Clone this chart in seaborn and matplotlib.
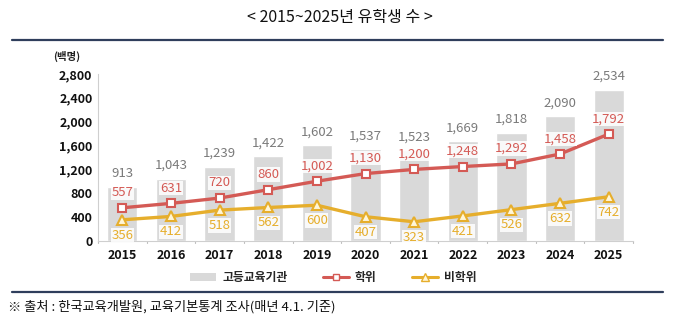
import matplotlib
matplotlib.use("Agg")
import matplotlib.pyplot as plt
from matplotlib.lines import Line2D
from matplotlib.patches import Patch
import seaborn as sns
import pandas as pd

years = ["2015", "2016", "2017", "2018", "2019", "2020", "2021", "2022", "2023", "2024", "2025"]
total = [913, 1043, 1239, 1422, 1602, 1537, 1523, 1669, 1818, 2090, 2534]
degree = [557, 631, 720, 860, 1002, 1130, 1200, 1248, 1292, 1458, 1792]
nondegree = [356, 412, 518, 562, 600, 407, 323, 421, 526, 632, 742]
yticks = [0, 400, 800, 1200, 1600, 2000, 2400, 2800]

df = pd.DataFrame({"year": years, "total": total, "degree": degree, "nondegree": nondegree})

sns.set_theme(style="white")
plt.rcParams['font.family'] = ['Noto Sans CJK KR', 'DejaVu Sans']

GREY_BAR = "#d9d9d9"
RED = "#d45a55"
YEL = "#e6ae2c"
GREY_TXT = "#7a7a7a"
NAVY = "#2f3e5c"

fig = plt.figure(figsize=(6.8, 3.24), dpi=100)
ax = fig.add_axes([0.144, 0.256, 0.787, 0.516])

sns.barplot(data=df, x="year", y="total", color=GREY_BAR, width=0.62, ax=ax,
            saturation=1, zorder=1)
sns.pointplot(data=df, x="year", y="degree", color=RED, markers="s", ax=ax,
              markersize=6, linewidth=2.4, markerfacecolor="white",
              markeredgecolor=RED, markeredgewidth=1.5, zorder=3)
sns.pointplot(data=df, x="year", y="nondegree", color=YEL, markers="^", ax=ax,
              markersize=7, linewidth=2.4, markerfacecolor="#fff6d8",
              markeredgecolor=YEL, markeredgewidth=1.5, zorder=3)

ax.set_ylim(0, 2800)
ax.set_xlim(-0.5, len(years) - 0.5)
ax.set_yticks(yticks)
ax.set_yticklabels([f"{v:,}" for v in yticks], fontsize=9, fontweight="bold", color="#111111")
ax.set_xticks(range(len(years)))
ax.set_xticklabels(years, fontsize=9, fontweight="bold", color="#111111")
ax.set_xlabel("")
ax.set_ylabel("")
ax.tick_params(axis="x", length=0, pad=6)
ax.tick_params(axis="y", length=0, pad=4)
for b in [i + 0.5 for i in range(-1, len(years))]:
    ax.plot([b, b], [0, -40], color="#bfbfbf", lw=0.8, clip_on=False, zorder=0)
for s in ["top", "right"]:
    ax.spines[s].set_visible(False)
for s in ["left", "bottom"]:
    ax.spines[s].set_color("#cfcfcf")
    ax.spines[s].set_linewidth(0.8)

bbox_w = dict(boxstyle="square,pad=0.05", fc="white", ec="none", alpha=0.85)
for i, y in enumerate(years):
    ax.annotate(f"{total[i]:,}", (i, total[i]), xytext=(0, 5), textcoords="offset points",
                ha="center", va="bottom", fontsize=9.5, color=GREY_TXT, zorder=5)
    ax.annotate(f"{degree[i]:,}", (i, degree[i]), xytext=(0, 11), textcoords="offset points",
                ha="center", va="center", fontsize=9.5, color=RED, zorder=5, bbox=bbox_w)
    ax.annotate(f"{nondegree[i]:,}", (i, nondegree[i]), xytext=(0, -11), textcoords="offset points",
                ha="center", va="center", fontsize=9.5, color=YEL, zorder=5, bbox=bbox_w)

fig.text(0.5, 0.945, "< 2015~2025년 유학생 수 >", ha="center", va="center", fontsize=11.5, color="#111111")
fig.add_artist(Line2D([0.018, 0.975], [0.877, 0.877], color=NAVY, lw=1.6))
fig.add_artist(Line2D([0.018, 0.975], [0.098, 0.098], color=NAVY, lw=1.6))
fig.text(0.098, 0.825, "(백명)", ha="center", va="center", fontsize=7.5, fontweight="bold", color="#222222")
fig.text(0.012, 0.052, "※ 출처 : 한국교육개발원, 교육기본통계 조사(매년 4.1. 기준)", ha="left", va="center",
         fontsize=9.5, color="#111111")

handles = [
    Patch(facecolor=GREY_BAR, edgecolor="none"),
    Line2D([0], [0], color=RED, lw=2.2, marker="s", markersize=5, markerfacecolor="white", markeredgecolor=RED),
    Line2D([0], [0], color=YEL, lw=2.2, marker="^", markersize=6, markerfacecolor="#fff6d8", markeredgecolor=YEL),
]
labels = ["고등교육기관", "학위", "비학위"]
leg = fig.legend(handles, labels, loc="center", bbox_to_anchor=(0.49, 0.142), ncol=3, frameon=False,
                 fontsize=8.5, handlelength=2.2, columnspacing=3.0, handletextpad=0.5)
for t in leg.get_texts():
    t.set_fontweight("bold")
if ax.get_legend() is not None:
    ax.get_legend().remove()

fig.savefig("out.png", dpi=100)
